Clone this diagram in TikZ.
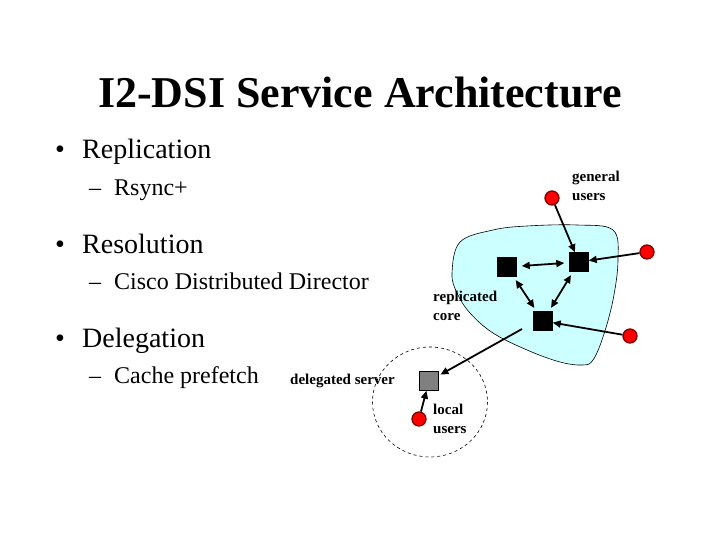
\documentclass[tikz,border=0pt]{standalone}
\usepackage{fontspec}
\setmainfont{Liberation Serif}
\usetikzlibrary{arrows.meta}
\definecolor{corefill}{HTML}{CCFFFF}
\definecolor{dotred}{HTML}{FF0000}
\definecolor{dotedge}{HTML}{800000}
\begin{document}
\begin{tikzpicture}[x=1pt,y=-1pt,
  titletext/.style={anchor=base,inner sep=0pt,font=\fontsize{44}{50}\selectfont\bfseries},
  bullettext/.style={anchor=base west,inner sep=0pt,font=\fontsize{28}{32}\selectfont},
  subtext/.style={anchor=base west,inner sep=0pt,font=\fontsize{24}{28}\selectfont},
  smalllabel/.style={anchor=base west,inner sep=0pt,align=left,font=\fontsize{15}{19}\selectfont\bfseries},
  server/.style={draw=black,fill=black,minimum size=19pt,inner sep=0pt},
  delegserver/.style={draw=black,fill=gray,minimum size=19pt,inner sep=0pt},
  user/.style={circle,draw=dotedge,line width=1.3pt,fill=dotred,minimum size=14pt,inner sep=0pt},
  link/.style={line width=1.8pt,-{Triangle[length=8pt,width=7pt]}},
  dlink/.style={line width=1.8pt,{Triangle[length=8pt,width=7pt]}-{Triangle[length=8pt,width=7pt]}}
]
\useasboundingbox (0,0) rectangle (720,540);
% title
\node[titletext] (title) at (360,108) {I2-DSI Service Architecture};
% bullets
\node[bullettext] (b1) at (55,159) {•};
\node[bullettext] (t1) at (82,159) {Replication};
\node[subtext] (d1) at (89,196) {–};
\node[subtext] (s1) at (114,196) {Rsync+};
\node[bullettext] (b2) at (55,253) {•};
\node[bullettext] (t2) at (82,253) {Resolution};
\node[subtext] (d2) at (89,289) {–};
\node[subtext] (s2) at (114,289) {Cisco Distributed Director};
\node[bullettext] (b3) at (55,347) {•};
\node[bullettext] (t3) at (82,347) {Delegation};
\node[subtext] (d3) at (89,383) {–};
\node[subtext] (s3) at (114,383) {Cache prefetch};
% core blob
\draw[fill=corefill,line width=0.6pt] plot[smooth cycle,tension=0.6] coordinates {
  (460,242) (493,230) (527,226) (577,225) (613,230) (618,260)
  (613,300) (603,337) (593,360) (583,365) (560,362) (527,350)
  (493,333) (470,313) (457,293) (452,273)};
% dashed delegation circle
\draw[dashed,line width=0.6pt] (430,402) ellipse [x radius=57.5, y radius=55];
% servers
\node[server] (sa) at (507,267) {};
\node[server] (sb) at (579,262) {};
\node[server] (sc) at (543,321) {};
\node[delegserver] (sd) at (429,381) {};
% users
\node[user] (ug) at (552,198) {};
\node[user] (ur) at (647,252) {};
\node[user] (ul) at (630,336) {};
\node[user] (uloc) at (419,419) {};
\coordinate (cstart) at (522,329);
% labels
\node[smalllabel] (lg) at (572,201) {general\\users};
\node[smalllabel] (lr) at (433,320) {replicated\\core};
\node[smalllabel] (ld) at (290,384) {delegated server};
\node[smalllabel] (ll) at (433,433) {local\\users};
% connectors
\draw[link] (ug) -- (sb);
\draw[link] (ur) -- (sb);
\draw[link] (ul) -- (sc);
\draw[dlink,shorten <=5pt,shorten >=5pt] (sa) -- (sb);
\draw[dlink,shorten <=4pt,shorten >=4pt] (sa) -- (sc);
\draw[dlink,shorten <=4pt,shorten >=4pt] (sb) -- (sc);
\draw[link,shorten >=2pt] (cstart) -- (sd);
\draw[link] (uloc) -- (sd);
\end{tikzpicture}
\end{document}
